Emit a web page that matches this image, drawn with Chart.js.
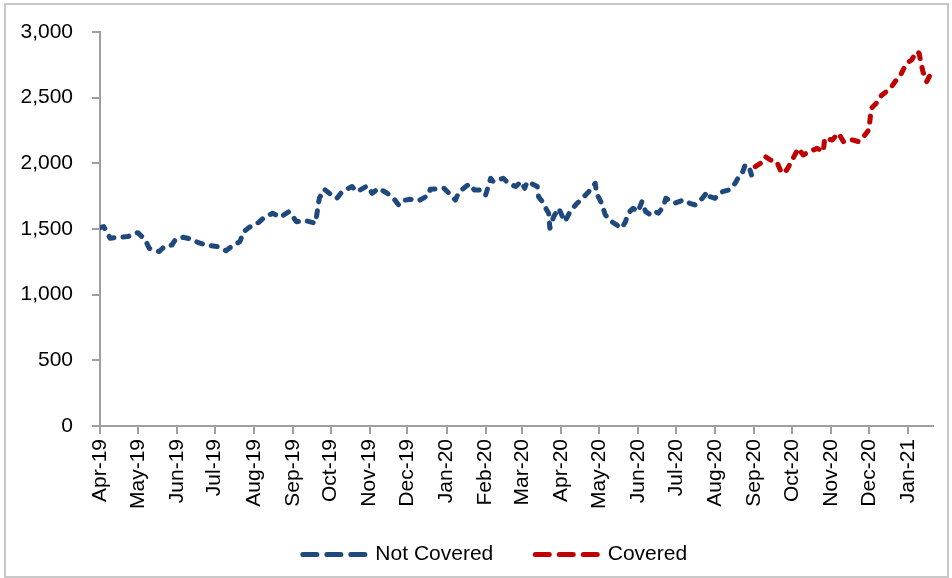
<!DOCTYPE html>
<html>
<head>
<meta charset="utf-8">
<script src="https://cdn.jsdelivr.net/npm/chart.js@4/dist/chart.umd.min.js"></script>
<style>
  html, body { margin: 0; padding: 0; background: #ffffff; }
  #wrap { width: 952px; height: 578px; position: relative; }
</style>
</head>
<body>
<div id="wrap"><canvas id="c" width="952" height="578"></canvas></div>
<script>
// ---- data ----
const startDate = '2019-04-01';
const endDate = '2021-01-21';
const tickLabels = ['Apr-19','May-19','Jun-19','Jul-19','Aug-19','Sep-19','Oct-19','Nov-19','Dec-19',
  'Jan-20','Feb-20','Mar-20','Apr-20','May-20','Jun-20','Jul-20','Aug-20','Sep-20','Oct-20','Nov-20','Dec-20','Jan-21'];
const yTicks = [0, 500, 1000, 1500, 2000, 2500, 3000];

const notCoveredDates = [
  '2019-04-01','2019-04-04','2019-04-09','2019-04-15','2019-04-23','2019-05-01','2019-05-07','2019-05-10',
  '2019-05-18','2019-05-22','2019-05-28','2019-05-31','2019-06-06','2019-06-13','2019-06-18','2019-06-24',
  '2019-07-03','2019-07-10','2019-07-15','2019-07-21','2019-07-24','2019-07-31','2019-08-05','2019-08-09',
  '2019-08-16','2019-08-22','2019-08-29','2019-09-04','2019-09-11','2019-09-19','2019-09-22','2019-09-26',
  '2019-09-30','2019-10-06','2019-10-10','2019-10-18','2019-10-22','2019-10-30','2019-11-03','2019-11-08',
  '2019-11-15','2019-11-21','2019-11-24','2019-11-27','2019-12-03','2019-12-10','2019-12-18','2019-12-19',
  '2019-12-30','2020-01-03','2020-01-08','2020-01-11','2020-01-19','2020-01-23','2020-01-29','2020-02-01',
  '2020-02-05','2020-02-07','2020-02-15','2020-02-19','2020-02-25','2020-02-29','2020-03-03','2020-03-05',
  '2020-03-13','2020-03-14','2020-03-17','2020-03-19','2020-03-22','2020-03-23','2020-03-26','2020-03-30',
  '2020-04-02','2020-04-04','2020-04-08','2020-04-13','2020-04-19','2020-04-24','2020-04-28','2020-04-29',
  '2020-05-03','2020-05-06','2020-05-11','2020-05-15','2020-05-19','2020-05-22','2020-05-24','2020-05-28',
  '2020-06-01','2020-06-04','2020-06-07','2020-06-11','2020-06-15','2020-06-17','2020-06-21','2020-06-23',
  '2020-06-30','2020-07-07','2020-07-12','2020-07-16','2020-07-22','2020-07-26','2020-07-28','2020-08-01',
  '2020-08-07','2020-08-12','2020-08-17','2020-08-20','2020-08-22','2020-08-25','2020-08-28','2020-08-30'
];
const notCoveredValues = [
  1510,1518,1430,1437,1442,1472,1417,1353,
  1328,1366,1378,1422,1437,1422,1396,1378,
  1366,1335,1371,1404,1480,1531,1550,1586,
  1620,1590,1632,1556,1564,1544,1734,1803,
  1772,1734,1784,1823,1784,1828,1772,1810,
  1772,1721,1683,1716,1726,1716,1759,1803,
  1810,1772,1721,1784,1843,1797,1797,1759,
  1886,1861,1886,1848,1823,1861,1810,1861,
  1823,1746,1708,1670,1620,1506,1594,1658,
  1594,1556,1632,1690,1745,1797,1848,1772,
  1696,1607,1556,1531,1506,1556,1620,1658,
  1632,1708,1632,1607,1632,1620,1670,1734,
  1696,1721,1696,1683,1734,1784,1746,1734,
  1784,1797,1848,1899,1911,1987,1975,1911
];

const coveredDates = [
  '2020-09-02','2020-09-06','2020-09-10','2020-09-14','2020-09-19','2020-09-23','2020-09-27','2020-10-02',
  '2020-10-06','2020-10-10','2020-10-15','2020-10-21','2020-10-26','2020-10-27','2020-11-02','2020-11-07',
  '2020-11-11','2020-11-18','2020-11-23','2020-11-28','2020-12-01','2020-12-02','2020-12-03','2020-12-07',
  '2020-12-10','2020-12-15','2020-12-19','2020-12-23','2020-12-27','2020-12-31','2021-01-04','2021-01-08',
  '2021-01-10','2021-01-11','2021-01-13','2021-01-16','2021-01-18','2021-01-21'
];
const coveredValues = [
  1975,2000,2051,2025,2013,1924,1950,2038,
  2114,2064,2089,2114,2089,2191,2178,2229,
  2165,2178,2165,2216,2254,2330,2419,2457,
  2508,2546,2584,2635,2686,2762,2787,2851,
  2838,2787,2698,2622,2660,2720
];

// ---- helpers ----
const MONTHS = ['Jan','Feb','Mar','Apr','May','Jun','Jul','Aug','Sep','Oct','Nov','Dec'];
function dayNum(iso) {
  const p = iso.split('-').map(Number);
  return Date.UTC(p[0], p[1] - 1, p[2]) / 86400000;
}
const day0 = dayNum(startDate);
function dayOffset(iso) { return dayNum(iso) - day0; }
function labelOffset(lbl) {
  const [m, y] = lbl.split('-');
  const mm = MONTHS.indexOf(m) + 1;
  return dayOffset('20' + y + '-' + String(mm).padStart(2, '0') + '-01');
}
const tickPos = tickLabels.map(labelOffset);
const tickMap = new Map(tickPos.map((p, i) => [p, tickLabels[i]]));

const toPoints = (dates, vals) => dates.map((d, i) => ({ x: dayOffset(d), y: vals[i] }));

const BLUE = '#1F497D';
const RED = '#C00000';
const AXIS = '#9f9f9f';
const FONT = "'Liberation Sans', Arial, Helvetica, sans-serif";

const framePlugin = {
  id: 'frame',
  beforeDraw(chart) {
    const ctx = chart.ctx;
    ctx.save();
    ctx.fillStyle = '#ffffff';
    ctx.fillRect(0, 0, chart.width, chart.height);
    ctx.strokeStyle = '#c8c8c8';
    ctx.lineWidth = 2;
    ctx.strokeRect(5, 4, 943, 573);
    ctx.restore();
  },
  afterLayout(chart) {
    // centre the legend row under the plot like the original
    if (chart.legend) {
      chart.legend.left += 57;
      chart.legend.width -= 57;
      chart.legend.top -= 8;
      chart.legend.bottom -= 8;
    }
  }
};

new Chart(document.getElementById('c'), {
  type: 'line',
  data: {
    datasets: [
      {
        label: 'Not Covered',
        data: toPoints(notCoveredDates, notCoveredValues),
        borderColor: BLUE,
        backgroundColor: BLUE,
        borderWidth: 5,
        borderDash: [6, 9],
        borderCapStyle: 'round',
        borderJoinStyle: 'round',
        pointRadius: 0,
        tension: 0,
        fill: false
      },
      {
        label: 'Covered',
        data: toPoints(coveredDates, coveredValues),
        borderColor: RED,
        backgroundColor: RED,
        borderWidth: 5,
        borderDash: [6, 9],
        borderCapStyle: 'round',
        borderJoinStyle: 'round',
        pointRadius: 0,
        tension: 0,
        fill: false
      }
    ]
  },
  options: {
    responsive: false,
    animation: false,
    devicePixelRatio: 1,
    layout: { padding: { left: 0, right: 19, top: 32, bottom: 3 } },
    scales: {
      x: {
        type: 'linear',
        min: 0,
        max: dayOffset(endDate),
        afterBuildTicks(scale) {
          scale.ticks = tickPos.map(v => ({ value: v }));
        },
        afterFit(scale) { scale.height = 84; },
        ticks: {
          autoSkip: false,
          minRotation: 90,
          maxRotation: 90,
          padding: 5,
          color: '#000000',
          font: { family: FONT, size: 21 },
          callback: (v) => tickMap.get(v)
        },
        grid: {
          display: true,
          drawOnChartArea: false,
          drawTicks: true,
          tickLength: 8,
          color: AXIS,
          lineWidth: 2
        },
        border: { display: true, color: AXIS, width: 2 }
      },
      y: {
        min: 0,
        max: 3000,
        afterBuildTicks(scale) {
          scale.ticks = yTicks.map(v => ({ value: v }));
        },
        afterFit(scale) { scale.width = 100; },
        ticks: {
          padding: 19,
          color: '#000000',
          font: { family: FONT, size: 21 },
          callback: (v) => v.toLocaleString('en-US')
        },
        grid: {
          display: true,
          drawOnChartArea: false,
          drawTicks: true,
          tickLength: 8,
          color: AXIS,
          lineWidth: 2
        },
        border: { display: true, color: AXIS, width: 2 }
      }
    },
    plugins: {
      tooltip: { enabled: false },
      legend: {
        display: true,
        position: 'bottom',
        align: 'center',
        maxHeight: 65,
        labels: {
          usePointStyle: true,
          pointStyle: 'line',
          pointStyleWidth: 62,
          padding: 42,
          color: '#000000',
          font: { family: FONT, size: 21 },
          generateLabels(chart) {
            const items = Chart.defaults.plugins.legend.labels.generateLabels(chart);
            return items.map(it => Object.assign(it, { lineDash: [14, 10], lineWidth: 5, lineCap: 'round', pointStyle: 'line' }));
          }
        }
      }
    }
  },
  plugins: [framePlugin]
});
</script>
</body>
</html>
